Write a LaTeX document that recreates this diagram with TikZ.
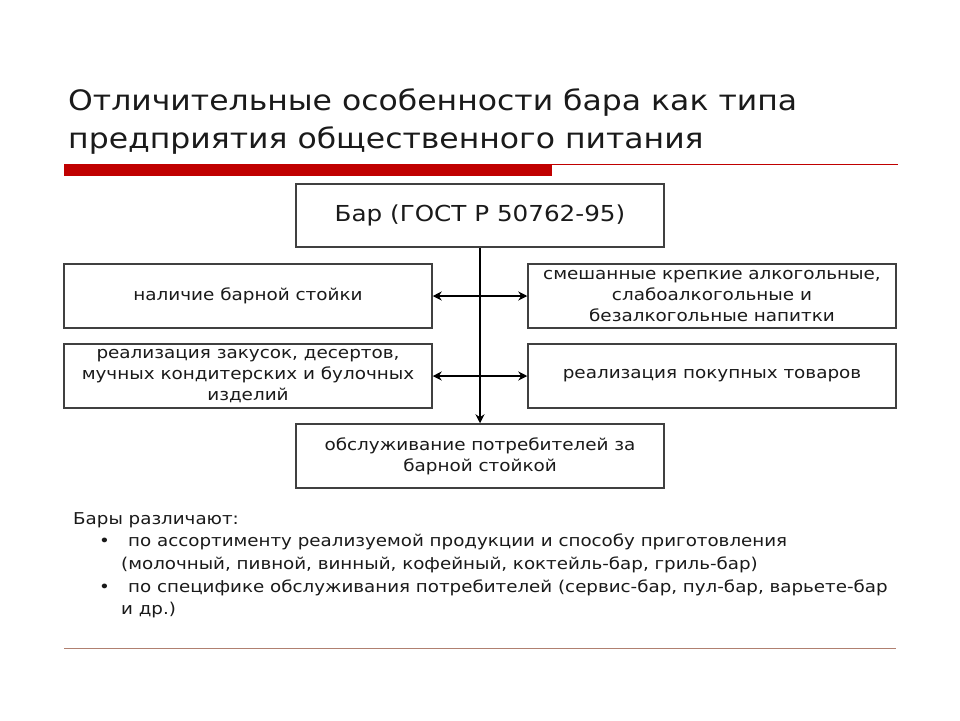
\documentclass[tikz,border=0pt]{standalone}
\usepackage{fontspec}
\setmainfont{DejaVu Sans}[FakeStretch=1.12]
\newfontfamily\titlefont{DejaVu Sans}[FakeStretch=1.12]
\newfontfamily\listfont{DejaVu Sans}[FakeStretch=1.12]
\usetikzlibrary{arrows.meta}
\definecolor{boxgray}{HTML}{404040}
\definecolor{barred}{HTML}{C00000}
\definecolor{txt}{HTML}{1A1A1A}
\definecolor{rulecol}{HTML}{B08070}
\begin{document}
\begin{tikzpicture}[x=1pt,y=-1pt,
  >={Stealth[length=9pt,width=9pt]},
  box/.style={draw=boxgray, line width=1.5pt, inner sep=0pt, text=txt, align=center,
    font=\fontsize{16.4}{21}\selectfont},
  wide/.style={box, minimum width=368pt, minimum height=64pt},
  conn/.style={draw=black, line width=1.2pt},
  tl/.style={anchor=base west, inner sep=0pt, text=txt, font=\titlefont\fontsize{28.1}{36}\selectfont},
  ll/.style={anchor=base west, inner sep=0pt, text=txt, font=\listfont\fontsize{16.3}{22}\selectfont}]
\useasboundingbox (0,0) rectangle (960,720);
\fill[white] (0,0) rectangle (960,720);
% title
\node[tl] (t1) at (68,110) {Отличительные особенности бара как типа};
\node[tl] (t2) at (68,148) {предприятия общественного питания};
\fill[barred] (64,164) rectangle (552,176);
\draw[barred, line width=1pt] (552,164.5) -- (898,164.5);
% boxes
\node[wide, minimum height=63pt, font=\fontsize{22}{25}\selectfont] (bar) at (480,215.5) {Бар (ГОСТ Р 50762-95)};
\node[wide] (l1) at (248,296) {\raisebox{-2pt}{наличие барной стойки}};
\node[wide] (r1) at (712,296) {смешанные крепкие алкогольные,\\слабоалкогольные и\\безалкогольные напитки};
\node[wide] (l2) at (248,376) {реализация закусок, десертов,\\мучных кондитерских и булочных\\изделий};
\node[wide] (r2) at (712,376) {\raisebox{-2pt}{реализация покупных товаров}};
\node[wide] (obs) at (480,456) {обслуживание потребителей за\\барной стойкой};
% connectors
\draw[conn, ->] (bar.south) -- (obs.north);
\draw[conn, <->] (l1.east) -- (r1.west);
\draw[conn, <->] (l2.east) -- (r2.west);
% list
\node[ll] (h) at (73,524) {Бары различают:};
\node[ll] (b1) at (99,546) {•};
\node[ll] (i1) at (128,546) {по ассортименту реализуемой продукции и способу приготовления};
\node[ll] (i1b) at (121,569) {(молочный, пивной, винный, кофейный, коктейль-бар, гриль-бар)};
\node[ll] (b2) at (99,592) {•};
\node[ll] (i2) at (128,592) {по специфике обслуживания потребителей (сервис-бар, пул-бар, варьете-бар};
\node[ll] (i2b) at (121,614) {и др.)};
\draw[rulecol, line width=1pt] (64,648) -- (896,648);
\end{tikzpicture}
\end{document}
